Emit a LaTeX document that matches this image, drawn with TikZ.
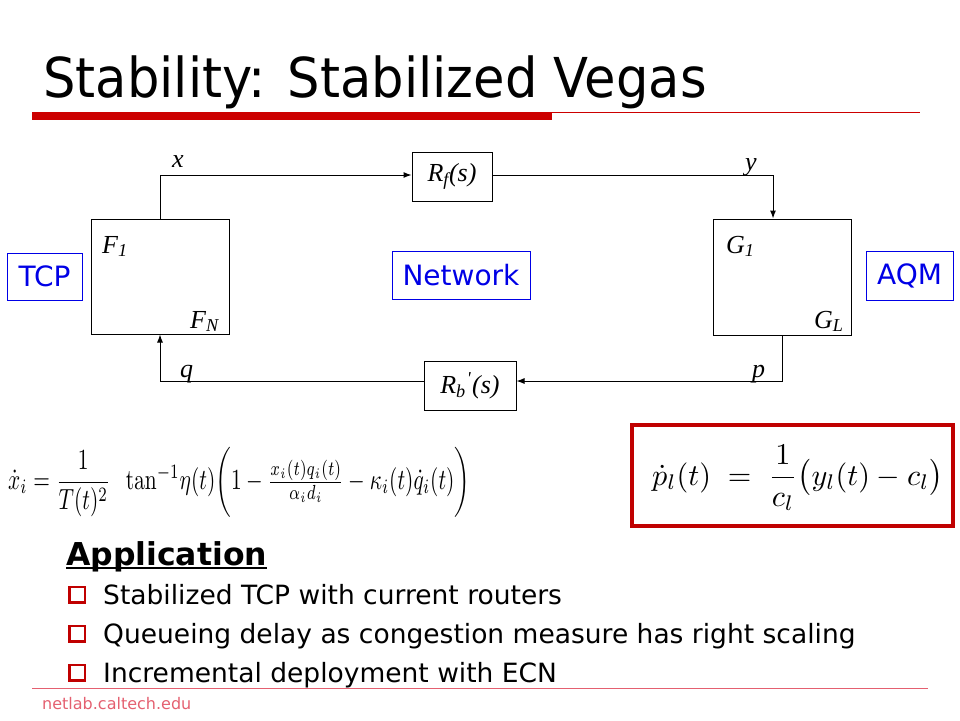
\documentclass[tikz,border=0pt]{standalone}
\usepackage{amsmath}
\usepackage[no-math]{fontspec}
\setmainfont{DejaVu Sans}
\newfontfamily\tms{Liberation Serif}
\usetikzlibrary{arrows.meta}
\definecolor{titlered}{RGB}{204,0,0}
\definecolor{boxred}{RGB}{192,0,0}
\definecolor{footred}{RGB}{228,96,112}
\definecolor{netblue}{RGB}{0,0,230}
\newcommand{\fsz}[1]{\fontsize{#1}{#1}\selectfont}
\begin{document}
\begin{tikzpicture}[x=1pt,y=-1pt,
  blk/.style={draw,line width=1pt,inner sep=0pt,font=\tms\itshape\fsz{26}},
  lbl/.style={inner sep=0pt,anchor=base west,font=\tms\itshape\fsz{26}},
  tag/.style={draw=netblue,line width=0.9pt,text=netblue,font=\fsz{28},inner sep=0pt},
  arr/.style={line width=1pt,-{Latex[length=8pt,width=6pt]}},
  bul/.style={draw=boxred,line width=2.5pt,minimum size=15.5pt,inner sep=0pt},
  btxt/.style={inner sep=0pt,anchor=base west,font=\fsz{26.5}}]
\useasboundingbox (0,0) rectangle (960,720);

% title
\node[inner sep=0pt,anchor=base west,font=\fsz{55}] (title) at (43,97) {\scalebox{0.93}[1]{Stability: Stabilized Vegas}};
\fill[titlered] (32,112) rectangle (552,120);
\draw[titlered,line width=1pt] (552,112.5) -- (920,112.5);

% block diagram
\node[blk,minimum width=138pt,minimum height=115pt] (F) at (160,276.5) {};
\node[blk,minimum width=138pt,minimum height=116pt] (G) at (782,277) {};
\node[blk,minimum width=80pt,minimum height=49pt] (Rf) at (452,176.5) {R\textsubscript{f}(s)};
\node[blk,minimum width=92pt,minimum height=49pt] (Rb) at (470,385.5) {R\textsubscript{b}\kern1pt\textsuperscript{'}\kern1pt(s)};

\node[tag,minimum width=75pt,minimum height=47pt] (tcp) at (44.5,276.5) {TCP};
\node[tag,minimum width=138pt,minimum height=48pt] (net) at (461,275) {Network};
\node[tag,minimum width=87pt,minimum height=49pt] (aqm) at (909.5,275.5) {AQM};

\node[lbl] (F1) at (102,253) {F\textsubscript{1}};
\node[lbl] (FN) at (190,328) {F\textsubscript{N}};
\node[lbl] (G1) at (726,253) {G\textsubscript{1}};
\node[lbl] (GL) at (814,328) {G\textsubscript{L}};
\node[lbl] (lx) at (172,167) {x};
\node[lbl] (ly) at (745,170) {y};
\node[lbl] (lq) at (180,377) {q};
\node[lbl] (lp) at (752,377) {p};

\draw[arr] (F.north) |- ([yshift=1.5pt]Rf.west);
\draw[arr] ([yshift=1.5pt]Rf.east) -| ([xshift=-9pt]G.north);
\draw[arr] (G.south) |- ([yshift=4.5pt]Rb.east);
\draw[arr] ([yshift=4.5pt]Rb.west) -| (F.south);

% formulas
\node[inner sep=0pt,anchor=north west] (eqx) at (8,447) {\resizebox*{462pt}{70pt}{$\dot{x}_i = \dfrac{1}{T(t)^2}\;\;\tan^{-1}\!\eta(t)\!\left(\vphantom{\dfrac{1}{T(t)^2}}1-\tfrac{x_i(t)q_i(t)}{\alpha_i d_i}-\kappa_i(t)\dot{q}_i(t)\right)$}};
\node[draw=boxred,line width=4pt,minimum width=321pt,minimum height=101pt,inner sep=0pt] (pbox) at (792.5,475.5) {};
\node[inner sep=0pt,anchor=west] (eqp) at (652,478) {\resizebox{291pt}{!}{$\dot{p}_l(t) \;=\; \dfrac{1}{c_l}\bigl(y_l(t)-c_l\bigr)$}};

% application
\node[inner sep=0pt,anchor=base west,font=\bfseries\fsz{31.5}] (app) at (66,565) {Application};
\draw[line width=2pt] ([yshift=-3pt]app.base west) -- ([yshift=-3pt]app.base east);

\node[bul] (b1) at (77,594.5) {};
\node[bul] (b2) at (77,633.5) {};
\node[bul] (b3) at (77,672.5) {};
\node[btxt] (t1) at (103,604) {Stabilized TCP with current routers};
\node[btxt] (t2) at (103,643) {Queueing delay as congestion measure has right scaling};
\node[btxt] (t3) at (103,682) {Incremental deployment with ECN};

% footer
\draw[footred,line width=1pt] (32,688) -- (928,688);
\node[inner sep=0pt,anchor=base west,font=\fsz{16},text=footred] (foot) at (42,709) {netlab.caltech.edu};
\end{tikzpicture}
\end{document}
